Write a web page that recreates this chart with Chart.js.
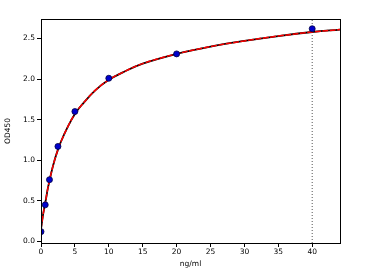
<!DOCTYPE html>
<html>
<head>
<meta charset="utf-8">
<script src="https://cdn.jsdelivr.net/npm/chart.js@4/dist/chart.umd.min.js"></script>
<style>
  html, body { margin: 0; padding: 0; background: #fff; }
  #wrap { width: 366px; height: 273px; }
</style>
</head>
<body>
<div id="wrap"><canvas id="odChart"></canvas></div>
<script>
// standards (ng/ml) and measured OD450
const stdConc = [0, 0.625, 1.25, 2.5, 5, 10, 20, 40]
const stdOD = [0.12, 0.45, 0.76, 1.17, 1.60, 2.01, 2.31, 2.62]

// fitted curve
const fitConc = [0, 0.25, 0.5, 0.75, 1, 1.5, 2, 2.5, 3, 4, 5, 6, 8, 10, 12, 15, 20, 25, 30, 35, 40, 44.1]
const fitOD = [0.15, 0.30, 0.42, 0.53, 0.65, 0.84, 1.00, 1.13, 1.24, 1.42, 1.57, 1.68, 1.86, 1.99, 2.08, 2.19, 2.31, 2.40, 2.47, 2.53, 2.58, 2.61]

const xTicks = [0, 5, 10, 15, 20, 25, 30, 35, 40]
const yTicks = [0, 0.5, 1.0, 1.5, 2.0, 2.5]
const xRange = [0, 44.1]
const yRange = [-0.02, 2.74]
const markerX = 40

const font = { family: 'DejaVu Sans', size: 7.5 }

function toXY(xs, ys) {
    let out = []
    for (let i = 0; i < xs.length; i++) {
        out.push({ x: xs[i], y: ys[i] })
    }
    return out
}

// box round the plot area
const frame = {
    id: 'frame',
    afterDatasetsDraw(chart) {
        const a = chart.chartArea
        const ctx = chart.ctx
        ctx.save()
        ctx.strokeStyle = '#000'
        ctx.lineWidth = 1
        ctx.strokeRect(a.left + 0.5, a.top + 0.5, a.right - a.left, a.bottom - a.top)
        ctx.restore()
    }
}

const config = {
    type: 'scatter',
    data: {
        datasets: [
            {
                label: 'marker',
                data: [{ x: markerX, y: yRange[0] }, { x: markerX, y: yRange[1] }],
                showLine: true,
                borderColor: '#555',
                borderWidth: 1,
                borderDash: [1, 2],
                pointRadius: 0,
                order: 4,
            },
            {
                label: 'fit black',
                data: toXY(fitConc, fitOD),
                showLine: true,
                borderColor: '#000',
                borderWidth: 1.8,
                pointRadius: 0,
                tension: 0.4,
                order: 3,
            },
            {
                label: 'fit',
                data: toXY(fitConc, fitOD),
                showLine: true,
                borderColor: '#ff0000',
                borderWidth: 1.5,
                borderDash: [6, 1.5],
                pointRadius: 0,
                tension: 0.4,
                order: 2,
            },
            {
                label: 'standards',
                data: toXY(stdConc, stdOD),
                showLine: false,
                backgroundColor: '#0000cc',
                borderColor: '#000044',
                borderWidth: 0.8,
                pointRadius: 3,
                order: 1,
            },
        ]
    },
    options: {
        animation: false,
        responsive: true,
        maintainAspectRatio: false,
        layout: { padding: { top: 19, right: 26, left: 0, bottom: 0 } },
        plugins: { legend: { display: false }, tooltip: { enabled: false } },
        scales: {
            x: {
                type: 'linear',
                min: xRange[0],
                max: xRange[1],
                afterBuildTicks: s => { s.ticks = xTicks.map(v => ({ value: v })) },
                afterFit: s => { s.height = 30 },
                grid: { drawOnChartArea: false, tickLength: 4, color: '#000' },
                border: { color: '#000' },
                ticks: { color: '#000', font: font, padding: 1, maxRotation: 0,
                    callback: v => String(v) },
                title: { display: true, text: 'ng/ml', color: '#000', font: font, padding: { top: 2 } },
            },
            y: {
                type: 'linear',
                min: yRange[0],
                max: yRange[1],
                afterBuildTicks: s => { s.ticks = yTicks.map(v => ({ value: v })) },
                afterFit: s => { s.width = 41 },
                grid: { drawOnChartArea: false, tickLength: 4, color: '#000' },
                border: { color: '#000' },
                ticks: { color: '#000', font: font, padding: 2,
                    callback: v => v.toFixed(1) },
                title: { display: true, text: 'OD450', color: '#000', font: font, padding: { bottom: 2 } },
            }
        }
    },
    plugins: [frame]
}

new Chart(document.getElementById('odChart'), config)
</script>
</body>
</html>
